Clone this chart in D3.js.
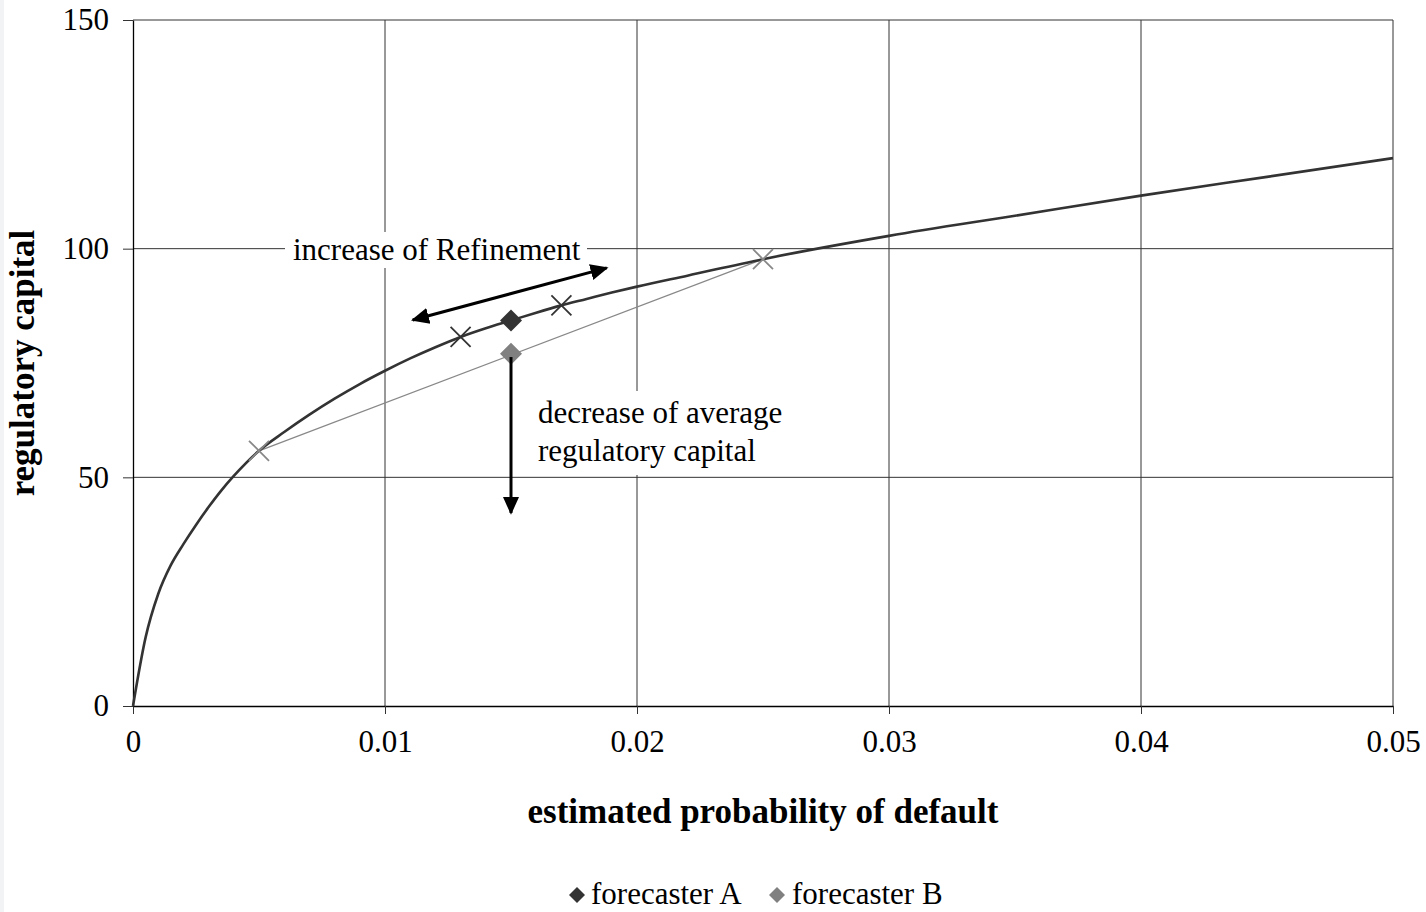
<!DOCTYPE html>
<html>
<head>
<meta charset="utf-8">
<script src="https://cdn.jsdelivr.net/npm/d3@7"></script>
<style>
  body { margin: 0; background: #fff; }
  svg { display: block; font-family: "Liberation Serif", "Times New Roman", serif; }
</style>
</head>
<body>
<svg id="chart" width="1426" height="912"></svg>
<script>
// curve: regulatory capital vs estimated PD
var curvePD = [0, 0.0005, 0.001, 0.0015, 0.002, 0.0025, 0.003, 0.0035, 0.004, 0.005,
  0.006, 0.007, 0.008, 0.009, 0.01, 0.011, 0.012, 0.013, 0.014, 0.015, 0.016, 0.017,
  0.018, 0.019, 0.02, 0.022, 0.025, 0.03, 0.035, 0.04, 0.045, 0.05];
var curveCap = [0, 15.0, 24.5, 30.8, 35.4, 39.6, 43.5, 47.1, 50.3, 55.8,
  59.9, 63.7, 67.2, 70.4, 73.3, 76.0, 78.45, 80.7, 82.6, 84.3, 86.0, 87.6,
  89.0, 90.4, 91.7, 94.1, 97.7, 102.8, 107.2, 111.6, 115.7, 119.8];

// chord between the two gray crosses
var chordPD = [0.005, 0.025];
var chordCap = [55.8, 97.7];

// dark crosses on the curve
var crossPD = [0.013, 0.017];
var crossCap = [80.7, 87.6];

var forecasterA = { pd: 0.015, cap: 84.3 };
var forecasterB = { pd: 0.015, cap: 77.0 };

var xTicks = [0, 0.01, 0.02, 0.03, 0.04, 0.05];
var xTickLabels = ['0', '0.01', '0.02', '0.03', '0.04', '0.05'];
var yTicks = [0, 50, 100, 150];

var svg = d3.select('#chart');

// faint strip at the left edge
svg.append('rect')
  .attr('x', 0).attr('y', 0)
  .attr('width', 4).attr('height', 912)
  .attr('fill', '#f1f3f5');

var x = d3.scaleLinear().domain([0, 0.05]).range([133, 1393]);
var y = d3.scaleLinear().domain([0, 150]).range([706, 20]);

// grid
svg.append('g')
  .selectAll('line')
  .data(yTicks.slice(1))
  .join('line')
    .attr('x1', x(0)).attr('x2', x(0.05))
    .attr('y1', d => y(d)).attr('y2', d => y(d))
    .attr('stroke', '#333').attr('stroke-width', 1);

svg.append('g')
  .selectAll('line')
  .data(xTicks.slice(1))
  .join('line')
    .attr('x1', d => x(d)).attr('x2', d => x(d))
    .attr('y1', y(0)).attr('y2', y(150))
    .attr('stroke', '#333').attr('stroke-width', 1);

// axes
var axisX = d3.axisBottom(x)
  .tickValues(xTicks)
  .tickFormat((d, i) => xTickLabels[i])
  .tickSizeInner(8).tickSizeOuter(0).tickPadding(16);

var axisY = d3.axisLeft(y)
  .tickValues(yTicks)
  .tickSizeInner(10).tickSizeOuter(0).tickPadding(14);

var gx = svg.append('g')
  .attr('transform', 'translate(0,' + y(0) + ')')
  .call(axisX);
var gy = svg.append('g')
  .attr('transform', 'translate(' + x(0) + ',0)')
  .call(axisY);

[gx, gy].forEach(function(g) {
  g.select('.domain').attr('stroke', '#000').attr('stroke-width', 1.3);
  g.selectAll('.tick line').attr('stroke', '#333');
  g.selectAll('.tick text')
    .attr('fill', '#000')
    .style('font-family', '"Liberation Serif", serif')
    .style('font-size', '31px');
});

// axis titles
svg.append('text')
  .attr('x', x(0.025)).attr('y', 823)
  .attr('text-anchor', 'middle')
  .style('font-size', '35px').style('font-weight', 'bold')
  .text('estimated probability of default');

svg.append('text')
  .attr('transform', 'translate(34,' + y(75) + ') rotate(-90)')
  .attr('text-anchor', 'middle')
  .style('font-size', '35px').style('font-weight', 'bold')
  .text('regulatory capital');

// annotation text boxes (white background hides grid)
svg.append('rect')
  .attr('x', 285).attr('y', 232).attr('width', 302).attr('height', 36)
  .attr('fill', '#fff');
svg.append('text')
  .attr('x', 293).attr('y', 260)
  .style('font-size', '31px')
  .text('increase of Refinement');

svg.append('rect')
  .attr('x', 530).attr('y', 391).attr('width', 262).attr('height', 84)
  .attr('fill', '#fff');
svg.append('text')
  .attr('x', 538).attr('y', 423)
  .style('font-size', '31px')
  .text('decrease of average');
svg.append('text')
  .attr('x', 538).attr('y', 461)
  .style('font-size', '31px')
  .text('regulatory capital');

// chord
svg.append('line')
  .attr('x1', x(chordPD[0])).attr('y1', y(chordCap[0]))
  .attr('x2', x(chordPD[1])).attr('y2', y(chordCap[1]))
  .attr('stroke', '#888').attr('stroke-width', 1.3);

// curve
var line = d3.line()
  .x((d, i) => x(curvePD[i]))
  .y(d => y(d))
  .curve(d3.curveMonotoneX);

svg.append('path')
  .datum(curveCap)
  .attr('d', line)
  .attr('fill', 'none')
  .attr('stroke', '#333')
  .attr('stroke-width', 2.6);

// crosses
function cross(g, cx, cy, r, color) {
  g.append('path')
    .attr('d', 'M' + (cx - r) + ',' + (cy - r) + 'L' + (cx + r) + ',' + (cy + r) +
      'M' + (cx - r) + ',' + (cy + r) + 'L' + (cx + r) + ',' + (cy - r))
    .attr('stroke', color).attr('stroke-width', 1.8).attr('fill', 'none');
}
var marks = svg.append('g');
chordPD.forEach((d, i) => cross(marks, x(d), y(chordCap[i]), 10, '#888'));
crossPD.forEach((d, i) => cross(marks, x(d), y(crossCap[i]), 10, '#333'));

// diamonds
function diamond(g, cx, cy, r, color) {
  g.append('path')
    .attr('d', 'M' + cx + ',' + (cy - r) + 'L' + (cx + r) + ',' + cy +
      'L' + cx + ',' + (cy + r) + 'L' + (cx - r) + ',' + cy + 'Z')
    .attr('fill', color);
}
diamond(marks, x(forecasterB.pd), y(forecasterB.cap), 11, '#808080');
diamond(marks, x(forecasterA.pd), y(forecasterA.cap), 11, '#333');

// arrows
var defs = svg.append('defs');
defs.append('marker')
  .attr('id', 'head')
  .attr('viewBox', '0 0 10 10')
  .attr('refX', 9).attr('refY', 5)
  .attr('markerWidth', 6).attr('markerHeight', 6)
  .attr('markerUnits', 'strokeWidth')
  .attr('orient', 'auto-start-reverse')
  .append('path')
    .attr('d', 'M0,0.5L10,5L0,9.5Z')
    .attr('fill', '#000');

svg.append('line')
  .attr('x1', x(0.0111)).attr('y1', y(84.4))
  .attr('x2', x(0.0188)).attr('y2', y(95.8))
  .attr('stroke', '#000').attr('stroke-width', 3)
  .attr('marker-start', 'url(#head)')
  .attr('marker-end', 'url(#head)');

svg.append('line')
  .attr('x1', x(0.015)).attr('y1', y(76.3))
  .attr('x2', x(0.015)).attr('y2', y(42.2))
  .attr('stroke', '#000').attr('stroke-width', 3)
  .attr('marker-end', 'url(#head)');

// legend
var legend = svg.append('g');
diamond(legend, 577, 895, 8, '#333');
legend.append('text').attr('x', 591).attr('y', 904)
  .style('font-size', '31px').text('forecaster A');
diamond(legend, 777, 895, 8, '#808080');
legend.append('text').attr('x', 792).attr('y', 904)
  .style('font-size', '31px').text('forecaster B');
</script>
</body>
</html>
